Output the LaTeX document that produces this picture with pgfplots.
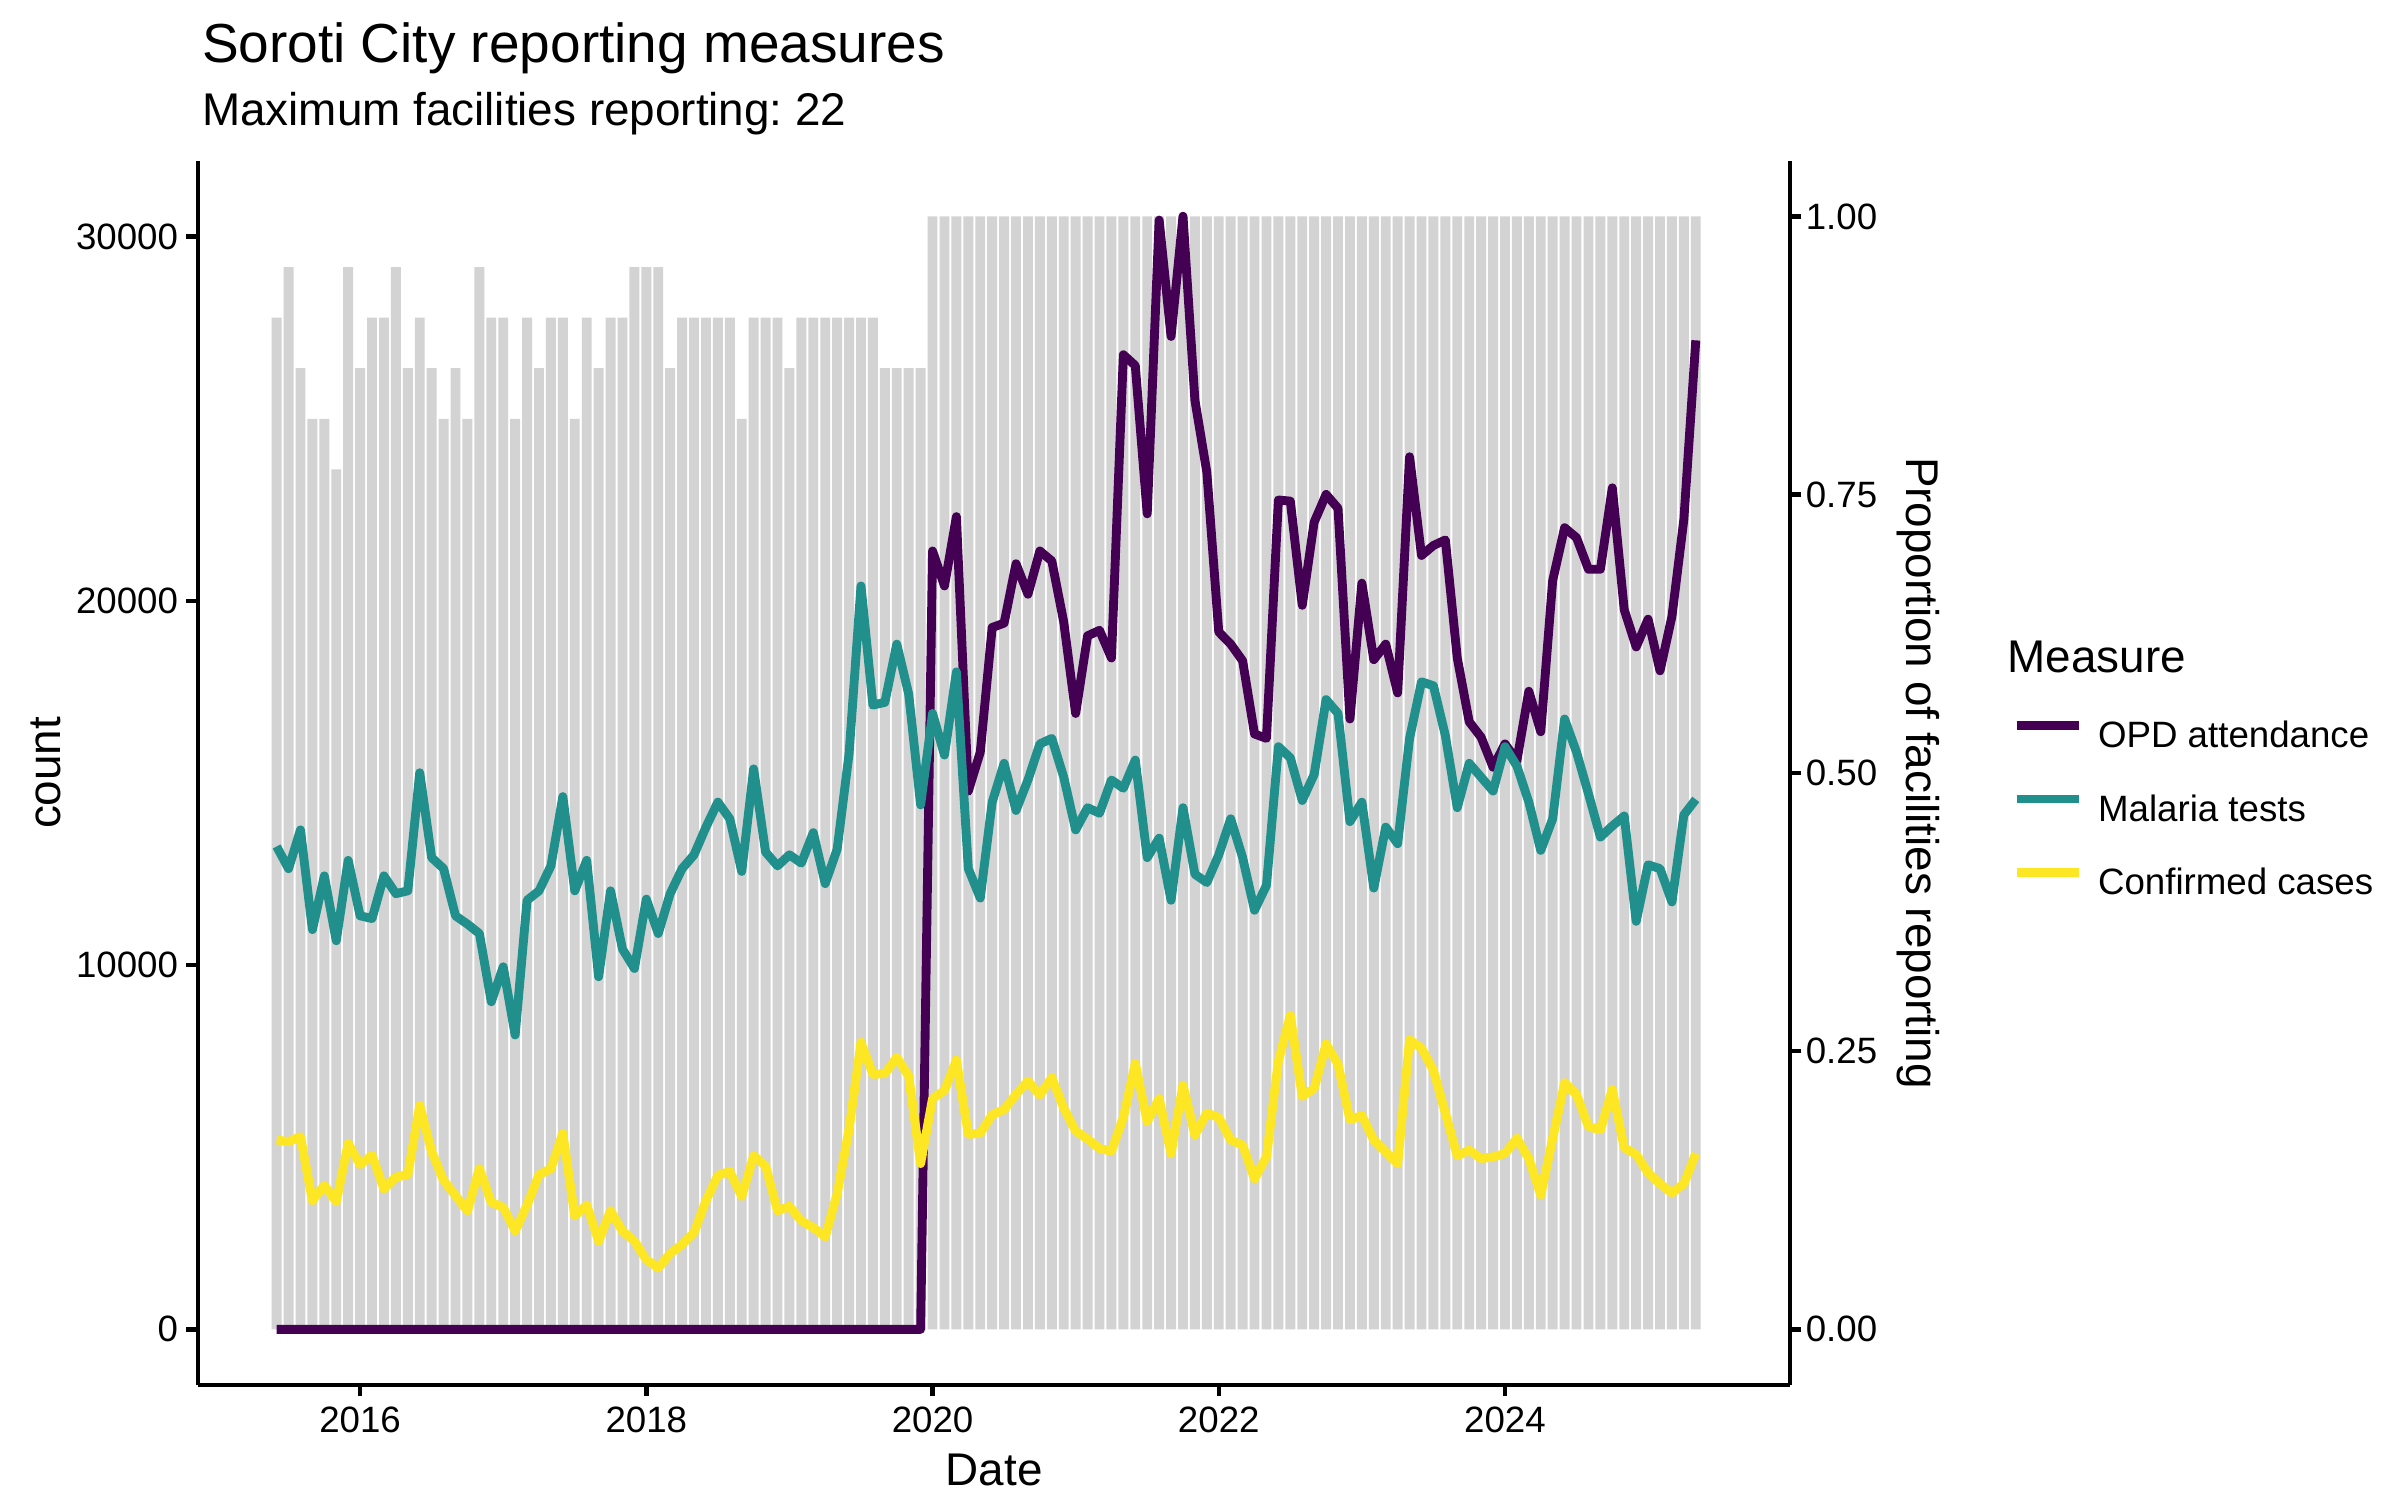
\documentclass[border=0pt]{standalone}
\usepackage{fontspec}
\setmainfont{Liberation Sans}
\usepackage{pgfplots}
\usepackage{pgfplotstable}
\pgfplotsset{compat=1.18}
\frenchspacing

\definecolor{opd}{HTML}{440154}
\definecolor{mal}{HTML}{21908C}
\definecolor{conf}{HTML}{FDE725}
\definecolor{barg}{HTML}{D3D3D3}

% m = month index (0 = Jun 2015), n = facilities reporting (of 22)
\pgfplotstableread{
m n opd mal conf
0 20 0 13257 5199
1 21 0 12648 5152
2 19 0 13713 5291
3 18 0 10974 3534
4 18 0 12450 3950
5 17 0 10669 3506
6 21 0 12876 5106
7 19 0 11354 4523
8 20 0 11278 4782
9 20 0 12450 3857
10 21 0 11963 4181
11 19 0 12039 4246
12 20 0 15281 6151
13 19 0 12952 4875
14 18 0 12648 4089
15 19 0 11354 3672
16 18 0 11126 3256
17 21 0 10867 4412
18 20 0 8995 3487
19 20 0 9954 3349
20 18 0 8082 2701
21 20 0 11780 3413
22 19 0 12039 4246
23 20 0 12724 4412
24 20 0 14626 5384
25 18 0 12039 3117
26 20 0 12876 3413
27 19 0 9680 2424
28 20 0 12039 3256
29 20 0 10441 2701
30 21 0 9908 2424
31 21 0 11811 1915
32 21 0 10867 1684
33 19 0 11963 2081
34 20 0 12648 2331
35 20 0 13028 2655
36 20 0 13789 3534
37 20 0 14474 4227
38 20 0 14017 4338
39 18 0 12572 3654
40 20 0 15387 4764
41 20 0 13104 4486
42 20 0 12724 3256
43 19 0 13028 3376
44 20 0 12800 2979
45 20 0 13637 2794
46 20 0 12237 2544
47 20 0 13181 3719
48 20 0 15800 5500
49 20 0 20410 7881
50 20 0 17138 7002
51 19 0 17214 7021
52 19 0 18812 7465
53 19 0 17442 6956
54 19 0 14398 4551
55 22 21369 16909 6336
56 22 20410 15768 6558
57 22 22313 18051 7391
58 22 14779 12648 5356
59 22 15844 11841 5384
60 22 19269 14474 5892
61 22 19390 15540 6031
62 22 21019 14246 6447
63 22 20182 15083 6817
64 22 21369 16072 6429
65 22 21095 16225 6910
66 22 19421 15159 6077
67 22 16909 13713 5448
68 22 19040 14322 5226
69 22 19192 14170 4967
70 22 18431 15083 4893
71 22 26757 14855 5818
72 22 26460 15630 7300
73 22 22389 12952 5707
74 22 30455 13485 6336
75 22 27259 11780 4828
76 22 30561 14322 6706
77 22 25509 12496 5337
78 22 23530 12267 5938
79 22 19147 13028 5818
80 22 18812 14017 5198
81 22 18355 12952 5060
82 22 16346 11506 4135
83 22 16225 12191 4736
84 22 22769 15996 7372
85 22 22739 15692 8621
86 22 19878 14520 6401
87 22 22161 15235 6614
88 22 22922 17290 7834
89 22 22541 16909 7280
90 22 16757 13941 5753
91 22 20486 14474 5874
92 22 18386 12115 5198
93 22 18812 13789 4875
94 22 17473 13333 4551
95 22 23956 16225 7946
96 22 21247 17777 7720
97 22 21521 17670 7113
98 22 21673 16301 5938
99 22 18431 14322 4764
100 22 16681 15540 4921
101 22 16255 15159 4690
102 22 15433 14779 4736
103 22 16072 15996 4828
104 22 15616 15464 5245
105 22 17518 14474 4690
106 22 16407 13150 3691
107 22 20562 14017 5245
108 22 22008 16757 6771
109 22 21734 15844 6447
110 22 20867 14703 5568
111 22 20867 13515 5476
112 22 23104 13820 6586
113 22 19756 14094 4986
114 22 18736 11202 4801
115 22 19497 12755 4301
116 22 18081 12648 3996
117 22 19573 11735 3746
118 22 22237 14124 3996
119 22 27152 14550 4828
}\soroti

\begin{document}
\begin{tikzpicture}[x=1pt,y=1pt]
\path[use as bounding box] (0,0) rectangle (576,360);

\begin{axis}[
  at={(47.5pt,27.6pt)}, anchor=south west,
  width=382.1pt, height=293.8pt, scale only axis,
  xmin=-6.6, xmax=126.9, ymin=-1528, ymax=32081,
  axis x line*=bottom, axis y line*=left,
  axis line style={line width=1.07pt, black, -},
  every outer x axis line/.append style={-},
  every outer y axis line/.append style={-},
  tick style={line width=1.07pt, black},
  tick align=outside, major tick length=2.75pt,
  xtick={7,31,55,79,103}, xticklabels={2016,2018,2020,2022,2024},
  ytick={0,10000,20000,30000},
  scaled y ticks=false,
  yticklabel style={/pgf/number format/1000 sep={}, xshift=1.5pt},
  xticklabel style={yshift=1pt},
  ticklabel style={font=\fontsize{8.8}{10}\selectfont, black},
  /pgf/number format/assume math mode=true,
  legend style={at={(axis description cs:1.139,0.543)}, anchor=north west,
    draw=none, fill=none, inner sep=0pt, row sep=9.3pt, column sep=3.6pt,
    nodes={inner sep=0pt, text height=6.4pt, text depth=1.9pt,
      font=\fontsize{8.8}{10}\selectfont}},
  legend cell align=left,
  legend image code/.code={\draw[#1, line width=2.13pt] (0pt,3.1pt) -- (14.9pt,3.1pt);},
]
\addplot[ybar, bar width=0.83, fill=barg, draw=none, forget plot]
  table[x=m, y expr=\thisrow{n}/22*30553] {\soroti};
\addplot[opd, line width=2.13pt, line join=round] table[x=m, y=opd] {\soroti};
\addlegendentry{OPD attendance}
\addplot[mal, line width=2.13pt, line join=round] table[x=m, y=mal] {\soroti};
\addlegendentry{Malaria tests}
\addplot[conf, line width=2.13pt, line join=round] table[x=m, y=conf] {\soroti};
\addlegendentry{Confirmed cases}
\end{axis}

\begin{axis}[
  at={(47.5pt,27.6pt)}, anchor=south west,
  width=382.1pt, height=293.8pt, scale only axis,
  xmin=-6.6, xmax=126.9, ymin=-0.05001, ymax=1.05001,
  axis x line=none, axis y line*=right,
  axis line style={line width=1.07pt, black, -},
  every outer y axis line/.append style={-},
  tick style={line width=1.07pt, black},
  tick align=outside, major tick length=2.75pt,
  ytick={0,0.25,0.5,0.75,1},
  yticklabel style={/pgf/number format/.cd, fixed, fixed zerofill, precision=2},
  ticklabel style={font=\fontsize{8.8}{10}\selectfont, black, xshift=-2.5pt},
  /pgf/number format/assume math mode=true,
]
\end{axis}

\begin{scope}[every node/.style={inner sep=0pt}]
\node[anchor=base west, font=\fontsize{13.2}{15}\selectfont] at (48.3,344.9) {Soroti City reporting measures};
\node[anchor=base west, font=\fontsize{11}{13}\selectfont] at (48.3,330) {Maximum facilities reporting: 22};
\node[rotate=90, font=\fontsize{11}{13}\selectfont] at (11.1,174.5) {count};
\node[font=\fontsize{11}{13}\selectfont] at (238.6,7.3) {Date};
\node[rotate=-90, font=\fontsize{11}{13}\selectfont] at (460.4,174.5) {Proportion of facilities reporting};
\node[anchor=base west, font=\fontsize{11}{13}\selectfont] at (481.6,198.7) {Measure};
\end{scope}
\end{tikzpicture}
\end{document}
